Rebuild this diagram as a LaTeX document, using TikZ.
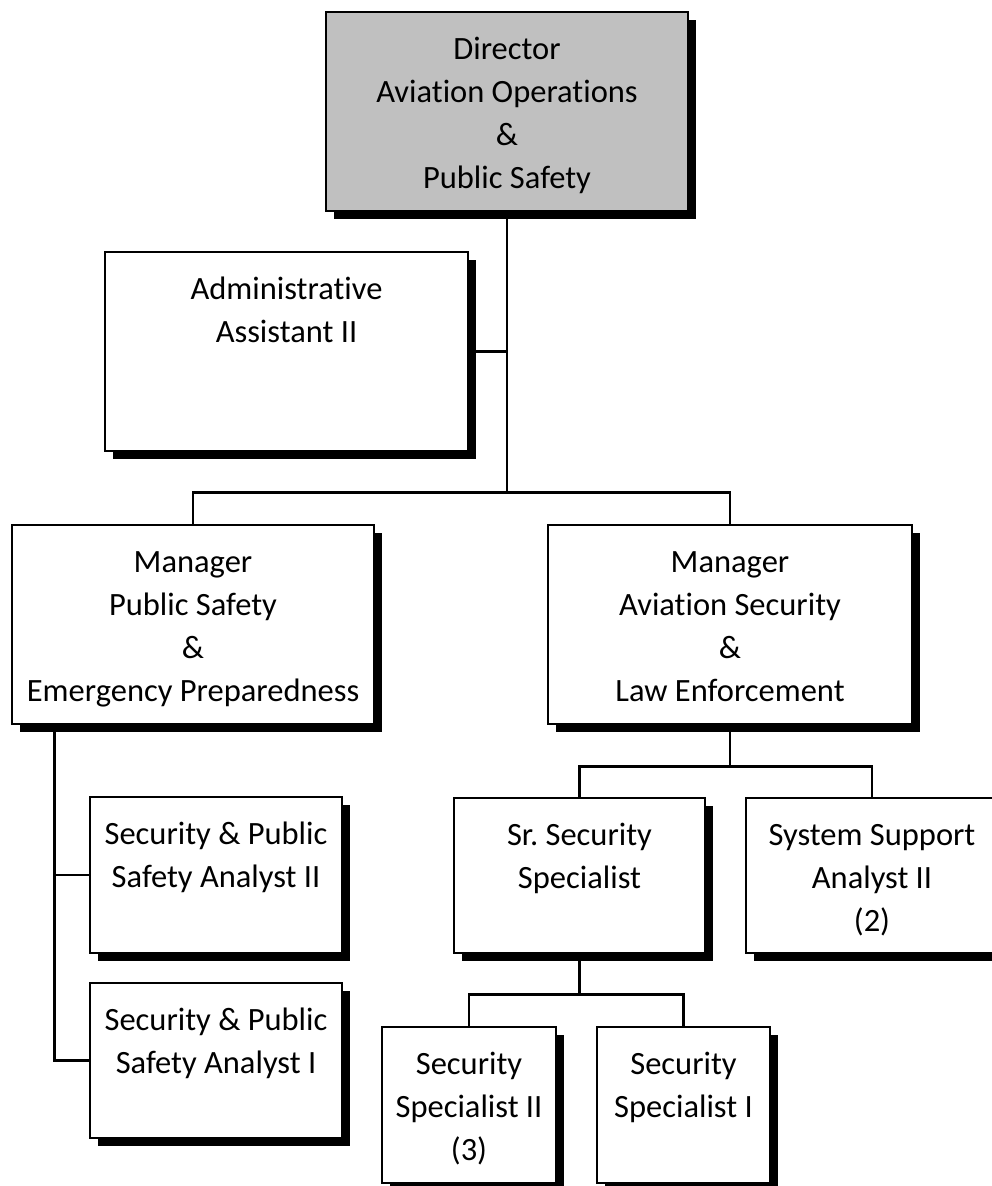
\documentclass[tikz,border=0pt]{standalone}
\usepackage{fontspec}
\setmainfont{Carlito}[Ligatures=NoCommon]
\usetikzlibrary{shadows}
\newcommand\boxtext[3]{\parbox[c][#2][t]{#1}{\centering\rule{0pt}{47.5pt}#3}}
\tikzset{
  orgbox/.style={draw=black, line width=2.6pt, fill=white, inner sep=0pt,
    font=\fontsize{32.5}{43}\selectfont,
    drop shadow={shadow xshift=7.5pt, shadow yshift=-7.5pt, fill=black, opacity=1}},
  graybox/.style={orgbox, fill=boxgray},
  conn/.style={draw=black, line width=2.6pt}
}
\definecolor{boxgray}{RGB}{192,192,192}
\begin{document}
\begin{tikzpicture}[x=1pt, y=-1pt]
\useasboundingbox (0,0) rectangle (992,1186);
\fill[white] (0,0) rectangle (992,1186);
% boxes
\node[graybox] (dir) at (507,111.5) {\boxtext{362pt}{199pt}{Director\\Aviation Operations\\\&\\Public Safety}};
\node[orgbox] (admin) at (286.5,351.5) {\boxtext{363pt}{199pt}{Administrative\\Assistant II}};
\node[orgbox] (mps) at (193,624.5) {\boxtext{362pt}{199pt}{Manager\\Public Safety\\\&\\Emergency Preparedness}};
\node[orgbox] (mas) at (730,624.5) {\boxtext{364pt}{199pt}{Manager\\Aviation Security\\\&\\Law Enforcement}};
\node[orgbox] (an2) at (216,875) {\boxtext{252pt}{156pt}{Security \& Public\\Safety Analyst II}};
\node[orgbox] (an1) at (216,1060.5) {\boxtext{252pt}{155pt}{Security \& Public\\Safety Analyst I}};
\node[orgbox] (sr) at (579.5,875.5) {\boxtext{251pt}{155pt}{Sr.\ Security\\Specialist}};
\node[orgbox] (ssa) at (872,875.5) {\boxtext{252pt}{155pt}{System Support\\Analyst II\\(2)}};
\node[orgbox] (ss2) at (469,1105) {\boxtext{174pt}{156pt}{Security\\Specialist II\\(3)}};
\node[orgbox] (ss1) at (683.5,1105) {\boxtext{173pt}{156pt}{Security\\Specialist I}};
% connectors
\path (dir.south) ++(0,280) coordinate (j1);
\draw[conn] (dir.south) -- (j1);
\draw[conn] (admin.east) -- (admin.east -| dir.south);
\draw[conn] (mps.north) |- (j1) -| (mas.north);
\path (mas.south) ++(0,41) coordinate (j2);
\draw[conn] (mas.south) -- (j2);
\draw[conn] (sr.north) |- (j2) -| (ssa.north);
\path (sr.south) ++(0,40) coordinate (j3);
\draw[conn] (sr.south) -- (j3);
\draw[conn] (ss2.north) |- (j3) -| (ss1.north);
\path (mps.south west) ++(44,0) coordinate (l1);
\draw[conn] (l1) |- (an1.west);
\draw[conn] (an2.west) -- (an2.west -| l1);
\end{tikzpicture}
\end{document}
